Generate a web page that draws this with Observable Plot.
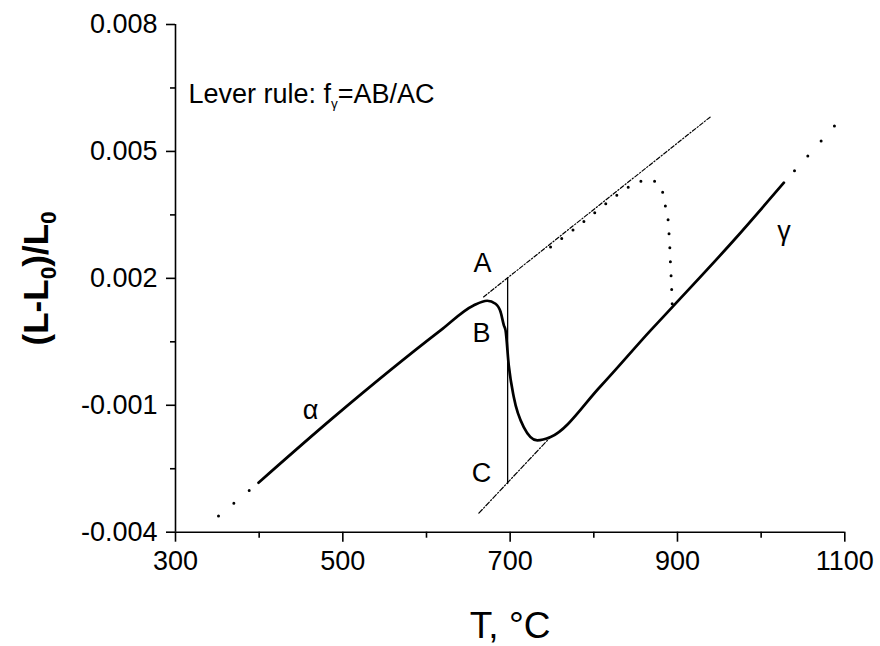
<!DOCTYPE html>
<html><head><meta charset="utf-8">
<script src="https://cdn.jsdelivr.net/npm/d3@7"></script>
<script src="https://cdn.jsdelivr.net/npm/@observablehq/plot@0.6"></script>
<style>body{margin:0;background:#fff} svg{display:block}</style>
</head><body><div id="chart"></div>
<script>
// Axis ticks
const xTicks = [300, 500, 700, 900, 1100];
const xTickLabels = ["300", "500", "700", "900", "1100"];
const xMinor = [400, 600, 800, 1000];
const yTicks = [-0.004, -0.001, 0.002, 0.005, 0.008];
const yTickLabels = ["-0.004", "-0.001", "0.002", "0.005", "0.008"];
const yMinor = [-0.0025, 0.0005, 0.0035, 0.0065];

// Cooling dilatometric curve (alpha -> transformation -> gamma)
const coolT = [399.2, 489.2, 616.8, 656.2, 672.6, 682.5, 688.5, 692.5, 694.5, 698.3, 704.4, 716.4, 732.4, 748.3, 808.1, 867.9, 893.8, 967.4, 1027.2];
const coolV = [-0.00283, -0.00128, 0.00077, 0.00136, 0.00147, 0.00140, 0.00121, 0.00089, 0.00077, -0.00005, -0.00081, -0.00152, -0.00183, -0.00175, -0.00055, 0.00077, 0.00132, 0.00290, 0.00426];

// Dotted extrapolations
const alphaExtT = [351.4, 399.2];
const alphaExtV = [-0.00362, -0.00283];
const gammaExtT = [1087.6, 1027.2];
const gammaExtV = [0.00560, 0.00426];

// Dotted curve (heating)
const heatT = [748.3, 784.2, 820.0, 849.9, 866.6, 876.2, 882.2, 885.8, 888.8, 890.0, 891.0, 891.7, 892.6, 893.2, 893.8];
const heatV = [0.00274, 0.00328, 0.00385, 0.00425, 0.00432, 0.00425, 0.00404, 0.00368, 0.00338, 0.00302, 0.00267, 0.00231, 0.00196, 0.00167, 0.00132];

// Tangent (dash-dot) lines
const upperT = [668.2, 939.6];
const upperV = [0.00156, 0.00582];
const lowerT = [662.6, 748.3];
const lowerV = [-0.00355, -0.00175];

// Lever segment A–C
const leverT = [697, 697];
const leverV = [0.00201, -0.00285];

// Point / phase labels
const labelText = ["A", "B", "C", "α", "γ"];
const labelT = [667, 665.8, 665.8, 461.4, 1027.2];
const labelV = [0.00236, 0.00069, -0.00262, -0.00112, 0.00310];

const LEVER = "Lever rule: fγ=AB/AC";
const YTITLE = "(L-L0)/L0";
const XTITLE = "T, °C";

const FONT = "'Liberation Sans', Arial, Helvetica, sans-serif";
const pts = (T, V) => T.map((t, i) => ({T: t, V: V[i]}));
const xLab = new Map(xTicks.map((d, i) => [d, xTickLabels[i]]));
const yLab = new Map(yTicks.map((d, i) => [d, yTickLabels[i]]));

const plot = Plot.plot({
  width: 880, height: 646,
  marginLeft: 175, marginRight: 35.7, marginTop: 24, marginBottom: 114.3,
  style: {fontFamily: FONT, background: "#fff", color: "#000", fontSize: "27px"},
  x: {domain: [300, 1100]},
  y: {domain: [-0.004, 0.008]},
  marks: [
    Plot.ruleX([300], {stroke: "#000", strokeWidth: 1.6}),
    Plot.ruleY([-0.004], {stroke: "#000", strokeWidth: 1.6}),
    Plot.axisX(xTicks, {tickSize: 10, tickPadding: 9, fontSize: 27, strokeWidth: 1.6, label: null, tickFormat: d => xLab.get(d)}),
    Plot.axisX(xMinor, {tickSize: 6, strokeWidth: 1.6, label: null, tickFormat: () => ""}),
    Plot.axisY(yTicks, {tickSize: 9, tickPadding: 9, fontSize: 27, strokeWidth: 1.6, label: null, tickFormat: d => yLab.get(d)}),
    Plot.axisY(yMinor, {tickSize: 5, strokeWidth: 1.6, label: null, tickFormat: () => ""}),

    Plot.line(pts(upperT, upperV), {x: "T", y: "V", stroke: "#000", strokeWidth: 1.2, strokeDasharray: "4,2,1.2,2"}),
    Plot.line(pts(lowerT, lowerV), {x: "T", y: "V", stroke: "#000", strokeWidth: 1.2, strokeDasharray: "5,2,1.2,2"}),
    Plot.line(pts(leverT, leverV), {x: "T", y: "V", stroke: "#000", strokeWidth: 1.3}),
    Plot.line(pts(heatT, heatV), {x: "T", y: "V", stroke: "#000", strokeWidth: 3, strokeLinecap: "round", strokeDasharray: "0,14", curve: "catmull-rom"}),
    Plot.line(pts(alphaExtT, alphaExtV), {x: "T", y: "V", stroke: "#000", strokeWidth: 3, strokeLinecap: "round", strokeDasharray: "0,20"}),
    Plot.line(pts(gammaExtT, gammaExtV), {x: "T", y: "V", stroke: "#000", strokeWidth: 3, strokeLinecap: "round", strokeDasharray: "0,20"}),
    Plot.line(pts(coolT, coolV), {x: "T", y: "V", stroke: "#000", strokeWidth: 2.7, curve: "monotone-x"}),

    Plot.text(labelText.map((s, i) => ({s, T: labelT[i], V: labelV[i]})), {x: "T", y: "V", text: "s", fontSize: 27, fill: "#000"}),
    Plot.text([LEVER], {x: 315.5, y: 0.00636, textAnchor: "start", fontSize: 27, fill: "#000"}),
    Plot.text([YTITLE], {frameAnchor: "left", dx: -139, rotate: -90, textAnchor: "middle", lineAnchor: "middle", fontSize: 35, fontWeight: "bold", fill: "#000"}),
    Plot.text([XTITLE], {frameAnchor: "bottom", dy: 94, textAnchor: "middle", lineAnchor: "middle", fontSize: 37, fill: "#000"})
  ]
});

function rich(t, parts, base) {
  t.textContent = "";
  let shift = 0;
  for (const p of parts) {
    const ts = document.createElementNS("http://www.w3.org/2000/svg", "tspan");
    const target = p.sub ? base * p.sub : (p.sup ? -base * p.sup : 0);
    ts.setAttribute("dy", String(target - shift));
    shift = target;
    if (p.size) ts.setAttribute("font-size", String(base * p.size));
    ts.textContent = p.s;
    t.appendChild(ts);
  }
}
plot.querySelectorAll("text").forEach(t => {
  if (t.textContent === LEVER) {
    rich(t, [{s: "Lever rule: f"}, {s: "γ", sub: 0.22, size: 0.5}, {s: "=AB/AC"}], 27);
  } else if (t.textContent === YTITLE) {
    rich(t, [{s: "(L-L"}, {s: "0", sub: 0.25, size: 0.65}, {s: ")/L"}, {s: "0", sub: 0.25, size: 0.65}], 35);
  }
});
document.getElementById("chart").appendChild(plot);
</script>
</body></html>
